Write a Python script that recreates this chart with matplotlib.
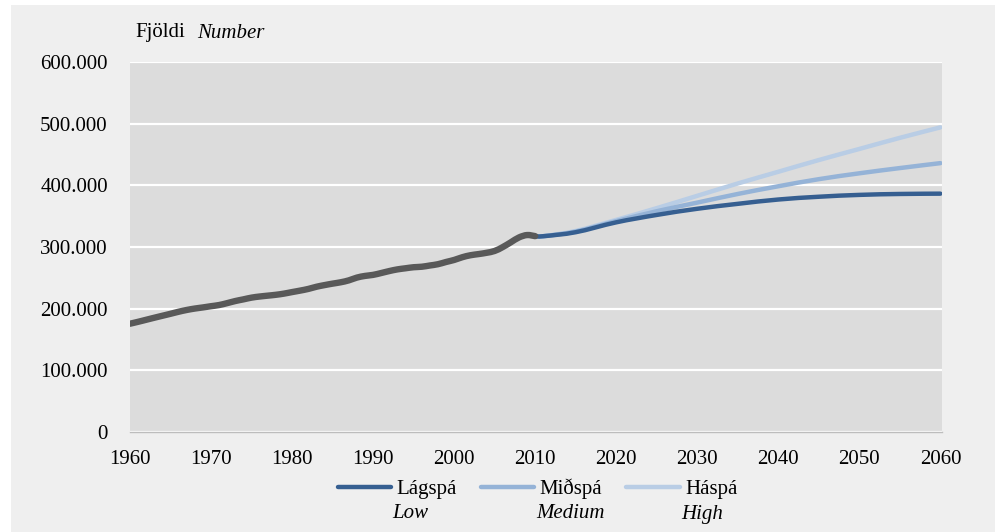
import matplotlib
matplotlib.use("Agg")
import matplotlib.pyplot as plt
from matplotlib.patches import Rectangle, PathPatch
from matplotlib.path import Path
from matplotlib.ticker import FuncFormatter, MultipleLocator

plt.rcParams['font.family'] = ['Liberation Serif', 'DejaVu Serif']

# Historical population (thousands)
hist_years = list(range(1960, 2011))
hist_values = [175.6, 178.7, 182.0, 185.3, 188.5, 191.7, 195.0, 197.9, 200.2, 202.0,
               204.0, 205.9, 209.0, 212.4, 215.1, 217.9, 219.7, 221.1, 222.5, 224.4,
               226.9, 229.3, 232.0, 235.5, 238.2, 240.6, 242.8, 245.9, 250.4, 253.1,
               254.8, 257.8, 261.0, 263.7, 265.5, 267.2, 268.0, 270.0, 272.1, 275.7,
               279.0, 283.4, 286.6, 288.5, 290.6, 293.6, 299.9, 307.7, 315.5, 319.4,
               317.6]

# Projections (thousands)
proj_years = [2010, 2011, 2015, 2020, 2025, 2030, 2035, 2040, 2045, 2050, 2055, 2060]
low_values = [317.6, 317.5, 324, 340, 352, 362, 370, 377, 381.5, 384.5, 386, 386.5]
medium_values = [317.6, 317.5, 325, 342, 358, 372, 386, 398.5, 410, 419.5, 428, 436]
high_values = [317.6, 317.5, 326, 344, 363, 383, 403, 422, 441, 459, 477, 494]

series_labels = ['Lágspá', 'Miðspá', 'Háspá']
series_sublabels = ['Low', 'Medium', 'High']
y_label_main = 'Fjöldi'
y_label_sub = 'Number'


def smooth_line(ax, xs, ys, **kw):
    """Draw a smoothed (Excel-style Catmull-Rom) line through the data points."""
    pts = list(zip(xs, ys))
    n = len(pts)
    verts = [pts[0]]
    codes = [Path.MOVETO]
    for i in range(n - 1):
        p0 = pts[i - 1] if i > 0 else pts[i]
        p1 = pts[i]
        p2 = pts[i + 1]
        p3 = pts[i + 2] if i + 2 < n else pts[i + 1]
        c1 = (p1[0] + (p2[0] - p0[0]) / 6, p1[1] + (p2[1] - p0[1]) / 6)
        c2 = (p2[0] - (p3[0] - p1[0]) / 6, p2[1] - (p3[1] - p1[1]) / 6)
        verts += [c1, c2, p2]
        codes += [Path.CURVE4] * 3
    patch = PathPatch(Path(verts, codes), fill=False, capstyle='round',
                      joinstyle='round', **kw)
    ax.add_patch(patch)
    return patch


W, H = 1000, 532
fig = plt.figure(figsize=(W / 100, H / 100), dpi=100, facecolor='white')
fig.patches.append(Rectangle((11 / W, 0), (995 - 11) / W, 1 - 5 / H,
                             transform=fig.transFigure, facecolor='#efefef',
                             edgecolor='none', zorder=-10))

ax = fig.add_axes([130 / W, 1 - 432 / H, (942 - 130) / W, (432 - 62) / H])
ax.set_facecolor('#dcdcdc')

c_hist = '#595959'
c_low = '#365F91'
c_med = '#95B3D7'
c_high = '#B9CDE5'

smooth_line(ax, proj_years, [v * 1000 for v in high_values], edgecolor=c_high,
            lw=3.2, zorder=3)
smooth_line(ax, proj_years, [v * 1000 for v in medium_values], edgecolor=c_med,
            lw=3.2, zorder=4)
smooth_line(ax, proj_years, [v * 1000 for v in low_values], edgecolor=c_low,
            lw=3.2, zorder=5)
smooth_line(ax, hist_years, [v * 1000 for v in hist_values], edgecolor=c_hist,
            lw=4.6, zorder=6)

ax.set_xlim(1960, 2060.2)
ax.set_ylim(0, 600000)
ax.xaxis.set_major_locator(MultipleLocator(10))
ax.yaxis.set_major_locator(MultipleLocator(100000))
ax.yaxis.set_major_formatter(FuncFormatter(
    lambda v, p: '0' if v == 0 else f'{int(v):,}'.replace(',', '.')))
ax.grid(axis='y', color='white', lw=1.6, zorder=1)
ax.set_axisbelow(True)
for s in ['top', 'right', 'left']:
    ax.spines[s].set_visible(False)
ax.spines['bottom'].set_color('#bdbdbd')
ax.spines['bottom'].set_linewidth(1.0)
ax.tick_params(axis='both', length=0, labelsize=15, colors='black')
ax.tick_params(axis='x', pad=13)
ax.tick_params(axis='y', pad=16)

fig.text(135 / W, 1 - 33 / H, y_label_main, fontsize=15, va='center', ha='left')
fig.text(197 / W, 1 - 33 / H, y_label_sub, fontsize=15, va='center', ha='left',
         style='italic')

handles = [plt.Line2D([], [], color=c, lw=3.2, solid_capstyle='round')
           for c in (c_low, c_med, c_high)]
leg = fig.legend(handles, series_labels, ncol=3, loc='center left',
                 bbox_to_anchor=(338 / W, 1 - 489 / H), bbox_transform=fig.transFigure,
                 frameon=False, fontsize=15, borderpad=0, borderaxespad=0,
                 handlelength=2.55, handletextpad=0.27, columnspacing=1.15)

fig.canvas.draw()
renderer = fig.canvas.get_renderer()
for t, sub in zip(leg.get_texts(), series_sublabels):
    bb = t.get_window_extent(renderer)
    fig.text((bb.x0 - 4) / W, 1 - 514 / H, sub, fontsize=15, style='italic',
             va='center', ha='left')

fig.savefig('out.png', dpi=100, facecolor=fig.get_facecolor())
